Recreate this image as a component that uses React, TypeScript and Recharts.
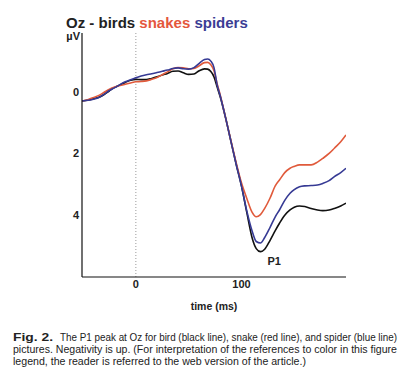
import React from 'react';
import { LineChart, Line, XAxis, YAxis, ReferenceLine, ReferenceDot } from 'recharts';

const times = [-51, -45, -40, -35, -30, -25, -20, -15, -10, -5, 0, 5, 10, 15, 20, 25, 30, 35, 40, 45, 50, 55, 60, 65, 68, 71, 74, 77, 80, 85, 90, 95, 100, 105, 110, 114, 118, 122, 127, 132, 136, 141, 146, 150, 155, 160, 166, 172, 177, 183, 188, 194, 199];

const birds = [0.30, 0.27, 0.23, 0.18, 0.09, -0.03, -0.14, -0.22, -0.30, -0.37, -0.40, -0.39, -0.39, -0.43, -0.48, -0.54, -0.59, -0.66, -0.67, -0.61, -0.56, -0.57, -0.68, -0.74, -0.73, -0.65, -0.48, -0.15, 0.18, 0.85, 1.60, 2.35, 3.05, 3.90, 4.72, 5.08, 5.18, 5.10, 4.82, 4.50, 4.26, 4.00, 3.83, 3.74, 3.70, 3.72, 3.78, 3.83, 3.85, 3.83, 3.78, 3.70, 3.61];

const snakes = [0.30, 0.25, 0.19, 0.12, 0.02, -0.08, -0.15, -0.20, -0.24, -0.28, -0.32, -0.33, -0.35, -0.40, -0.46, -0.55, -0.64, -0.74, -0.78, -0.77, -0.74, -0.75, -0.84, -0.94, -0.95, -0.87, -0.68, -0.25, 0.12, 0.85, 1.58, 2.30, 2.95, 3.45, 3.90, 4.05, 3.98, 3.78, 3.45, 3.05, 2.86, 2.62, 2.48, 2.42, 2.37, 2.37, 2.37, 2.28, 2.16, 2.00, 1.83, 1.62, 1.40];

const spiders = [0.30, 0.28, 0.24, 0.19, 0.08, -0.04, -0.13, -0.23, -0.32, -0.39, -0.45, -0.51, -0.55, -0.58, -0.62, -0.66, -0.70, -0.75, -0.77, -0.74, -0.73, -0.78, -0.92, -1.04, -1.06, -0.99, -0.78, -0.22, 0.15, 0.85, 1.60, 2.35, 3.05, 3.85, 4.50, 4.85, 4.90, 4.72, 4.40, 4.05, 3.83, 3.52, 3.29, 3.17, 3.08, 3.05, 3.04, 3.02, 2.97, 2.88, 2.75, 2.62, 2.48];

const xTicks = [0, 100];
const yTicks = [0, 2, 4];
const xDomain = [-51, 199];
const yDomain = [-1.9, 6];
const peakLabel = { t: 131, v: 5.5, text: 'P1' };

const captionLines = [
  'The P1 peak at Oz for bird (black line), snake (red line), and spider (blue line)',
  'pictures. Negativity is up. (For interpretation of the references to color in this figure',
  'legend, the reader is referred to the web version of the article.)',
];

const data = times.map((t, i) => ({ t, birds: birds[i], snakes: snakes[i], spiders: spiders[i] }));

const SANS = '"Liberation Sans", Arial, Helvetica, sans-serif';
const tickStyle = { fontSize: 11, fontWeight: 700, fill: '#222', fontFamily: SANS };

export default function App() {
  return (
    <div style={{ position: 'absolute', left: 0, top: 0, width: 415, height: 375, background: '#fff' }}>
      <LineChart
        width={415}
        height={320}
        data={data}
        margin={{ top: 33, right: 69, bottom: 10, left: 52 }}
      >
        <XAxis
          dataKey="t"
          type="number"
          domain={xDomain}
          allowDataOverflow
          ticks={xTicks}
          height={33}
          tickSize={0}
          tickMargin={3}
          tickLine={false}
          axisLine={{ stroke: '#111', strokeWidth: 1.2 }}
          tick={tickStyle}
          label={{ value: 'time (ms)', position: 'insideBottom', offset: 0, fontSize: 10.5, fontWeight: 700, fill: '#222', fontFamily: SANS }}
        />
        <YAxis
          type="number"
          domain={yDomain}
          reversed
          allowDataOverflow
          ticks={yTicks}
          width={30}
          tickSize={0}
          tickMargin={3}
          tickLine={false}
          axisLine={{ stroke: '#111', strokeWidth: 1.2 }}
          tick={tickStyle}
        />
        <ReferenceLine x={0} stroke="#9a9a9a" strokeDasharray="1 2" strokeWidth={1} />
        <Line type="monotone" dataKey="birds" stroke="#111111" strokeWidth={1.6} dot={false} isAnimationActive={false} />
        <Line type="monotone" dataKey="snakes" stroke="#e05a3b" strokeWidth={1.6} dot={false} isAnimationActive={false} />
        <Line type="monotone" dataKey="spiders" stroke="#363a94" strokeWidth={1.6} dot={false} isAnimationActive={false} />
        <ReferenceDot
          x={peakLabel.t}
          y={peakLabel.v}
          r={0}
          fill="none"
          stroke="none"
          label={{ value: peakLabel.text, position: 'center', fontSize: 11, fontWeight: 700, fill: '#222', fontFamily: SANS }}
        />
      </LineChart>
      <svg width={415} height={375} style={{ position: 'absolute', left: 0, top: 0, pointerEvents: 'none' }}>
        <text x={66} y={27.5} fontFamily={SANS} fontWeight={700} fontSize={15}>
          <tspan fill="#222">Oz - birds </tspan>
          <tspan fill="#e4573d">snakes </tspan>
          <tspan fill="#3b3d94">spiders</tspan>
        </text>
        <text x={80} y={39.5} textAnchor="end" fontFamily={SANS} fontWeight={700} fontSize={11} fill="#222">µV</text>
        <text x={13} y={341} fontFamily={SANS} fontWeight={700} fontSize={10} fill="#222" textLength={40} lengthAdjust="spacingAndGlyphs">Fig. 2.</text>
        <text x={60} y={341} fontFamily={SANS} fontSize={10} fill="#222" textLength={337} lengthAdjust="spacingAndGlyphs">{captionLines[0]}</text>
        <text x={13} y={353} fontFamily={SANS} fontSize={10} fill="#222" textLength={384} lengthAdjust="spacingAndGlyphs">{captionLines[1]}</text>
        <text x={13} y={365} fontFamily={SANS} fontSize={10} fill="#222" textLength={293} lengthAdjust="spacingAndGlyphs">{captionLines[2]}</text>
      </svg>
    </div>
  );
}
